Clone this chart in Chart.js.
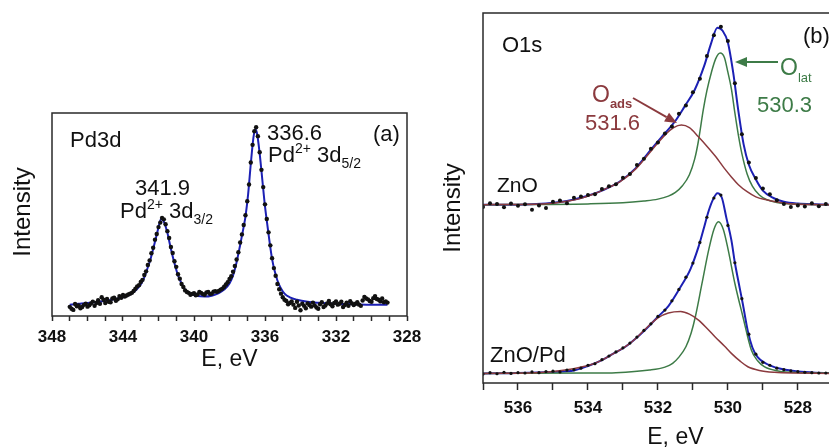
<!DOCTYPE html>
<html>
<head>
<meta charset="utf-8">
<title>Pd3d / O1s XPS</title>
<script src="https://cdn.jsdelivr.net/npm/chart.js@4.4.1/dist/chart.umd.min.js"></script>
<style>
  html, body { margin: 0; padding: 0; background: #fff; overflow: hidden; width: 829px; height: 448px; }
  canvas { position: absolute; top: 0; }
  #chartA { left: 0; }
  #chartB { left: 420px; }
</style>
</head>
<body>
<canvas id="chartA" width="440" height="380"></canvas>
<canvas id="chartB" width="470" height="460"></canvas>
<script>
// ---- panel (a): Pd3d ----
// fitted envelope (blue)
const pdFitE = [347.0, 346.5, 346.0, 345.5, 345.0, 344.5, 344.0, 343.6, 343.3, 343.0, 342.8, 342.6, 342.45, 342.3, 342.1, 341.95, 341.85, 341.7, 341.5, 341.3, 341.1, 340.9, 340.7, 340.5, 340.2, 339.8, 339.4, 339.0, 338.6, 338.3, 338.0, 337.8, 337.6, 337.4, 337.2, 337.1, 336.95, 336.8, 336.65, 336.55, 336.45, 336.3, 336.15, 336.0, 335.9, 335.75, 335.6, 335.45, 335.3, 335.1, 334.9, 334.6, 334.2, 333.6, 333.0, 332.0, 331.0, 330.0, 329.1];
const pdFitI = [5.6, 6.0, 6.4, 6.9, 7.4, 8.2, 9.2, 10.5, 12.5, 15.5, 19, 24, 28, 33, 40, 45.5, 47.8, 46.5, 41, 33, 26, 20, 16, 13, 11, 9.8, 9.6, 10.0, 11.3, 13.0, 16, 20, 26.5, 35, 44, 49, 60, 75, 88, 92, 90, 80, 67, 54, 47, 37, 28, 22, 17.5, 13.5, 11, 9.2, 8.0, 7.0, 6.5, 6.0, 5.8, 5.6, 5.6];
// measured points (black dots)
const pdDotE = [347.0, 346.9, 346.8, 346.7, 346.6, 346.5, 346.4, 346.3, 346.2, 346.1, 346.0, 345.9, 345.8, 345.7, 345.6, 345.5, 345.4, 345.3, 345.2, 345.1, 345.0, 344.9, 344.8, 344.7, 344.6, 344.5, 344.4, 344.3, 344.2, 344.1, 344.0, 343.9, 343.8, 343.7, 343.6, 343.5, 343.4, 343.3, 343.2, 343.1, 343.0, 342.9, 342.8, 342.7, 342.6, 342.5, 342.4, 342.3, 342.2, 342.1, 342.0, 341.9, 341.8, 341.7, 341.6, 341.5, 341.4, 341.3, 341.2, 341.1, 341.0, 340.9, 340.8, 340.7, 340.6, 340.5, 340.4, 340.3, 340.2, 340.1, 340.0, 339.9, 339.8, 339.7, 339.6, 339.5, 339.4, 339.3, 339.2, 339.1, 339.0, 338.9, 338.8, 338.7, 338.6, 338.5, 338.4, 338.3, 338.2, 338.1, 338.0, 337.9, 337.8, 337.7, 337.6, 337.5, 337.4, 337.3, 337.2, 337.1, 337.0, 336.9, 336.8, 336.7, 336.6, 336.5, 336.4, 336.3, 336.2, 336.1, 336.0, 335.9, 335.8, 335.7, 335.6, 335.5, 335.4, 335.3, 335.2, 335.1, 335.0, 334.9, 334.8, 334.7, 334.6, 334.5, 334.4, 334.3, 334.2, 334.1, 334.0, 333.9, 333.8, 333.7, 333.6, 333.5, 333.4, 333.3, 333.2, 333.1, 333.0, 332.9, 332.8, 332.7, 332.6, 332.5, 332.4, 332.3, 332.2, 332.1, 332.0, 331.9, 331.8, 331.7, 331.6, 331.5, 331.4, 331.3, 331.2, 331.1, 331.0, 330.9, 330.8, 330.7, 330.6, 330.5, 330.4, 330.3, 330.2, 330.1, 330.0, 329.9, 329.8, 329.7, 329.6, 329.5, 329.4, 329.3, 329.2, 329.1];
const pdDotI = [4.5, 3.6, 3.0, 5.9, 4.8, 5.2, 3.8, 4.4, 5.5, 6.0, 4.6, 5.3, 6.2, 7.1, 5.0, 6.4, 7.8, 6.0, 9.2, 8.0, 6.4, 8.4, 7.0, 6.8, 8.6, 9.0, 7.5, 8.2, 9.8, 9.0, 10.4, 9.6, 10.1, 10.6, 11.0, 11.4, 12.3, 13.4, 14.6, 15.2, 16.8, 17.8, 20.2, 22.0, 25.1, 27.4, 30.9, 33.6, 37.6, 40.4, 43.8, 46.0, 48.3, 47.6, 45.2, 41.8, 38.4, 34.0, 31.0, 27.0, 24.2, 20.6, 18.4, 15.8, 14.3, 12.6, 11.8, 11.4, 10.5, 10.9, 11.2, 10.2, 10.6, 11.8, 11.4, 10.8, 10.5, 11.6, 11.8, 10.9, 11.0, 12.0, 12.2, 11.9, 12.4, 13.0, 13.5, 14.4, 15.5, 16.6, 18.2, 19.6, 21.8, 24.6, 27.8, 31.4, 36.2, 40.2, 44.8, 49.6, 56.5, 64.8, 75.6, 84.3, 91.0, 93.0, 88.6, 80.7, 72.0, 63.5, 55.0, 47.8, 41.2, 34.8, 28.5, 23.6, 19.8, 15.8, 13.2, 11.0, 9.2, 8.0, 7.4, 5.8, 6.4, 7.2, 5.6, 4.0, 7.0, 5.2, 2.8, 6.0, 5.0, 3.8, 6.2, 5.4, 4.6, 6.6, 5.2, 4.2, 3.6, 5.8, 6.8, 4.4, 5.2, 6.2, 7.4, 5.8, 4.8, 6.4, 7.2, 5.6, 6.0, 7.0, 4.4, 5.4, 6.6, 5.0, 7.3, 6.2, 5.4, 6.0, 6.8, 5.6, 5.0, 7.6, 9.4, 8.6, 8.2, 7.4, 7.0, 8.8, 9.8, 8.4, 8.0, 7.2, 8.6, 6.8, 7.2, 6.6];

// ---- panel (b): O1s ----
// ZnO: envelope, lattice oxygen, adsorbed oxygen
const znoFitE = [537.0, 536.0, 535.2, 534.8, 534.4, 534.0, 533.6, 533.1, 532.64, 532.17, 531.8, 531.52, 531.24, 530.95, 530.67, 530.48, 530.3, 530.15, 530.0, 529.85, 529.7, 529.55, 529.4, 529.2, 529.0, 528.7, 528.4, 528.0, 527.5, 527.0, 526.0];
const znoFitI = [48.2, 48.2, 48.5, 48.9, 49.6, 50.6, 52.0, 54.4, 58.0, 63.4, 67.5, 70.6, 74.7, 79.2, 85.9, 91.8, 96.0, 95.2, 92.0, 84.0, 73.5, 64.5, 59.0, 55.0, 52.0, 50.0, 49.0, 48.5, 48.3, 48.2, 48.2];
const znoLatE = [537.0, 534.0, 533.0, 532.4, 532.0, 531.7, 531.5, 531.3, 531.1, 530.95, 530.85, 530.7, 530.6, 530.47, 530.35, 530.22, 530.1, 530.0, 529.9, 529.8, 529.7, 529.6, 529.45, 529.3, 529.1, 528.9, 528.6, 528.2, 527.0, 526.0];
const znoLatI = [48.2, 48.4, 48.7, 49.2, 49.7, 50.5, 51.5, 53.3, 56.3, 60.5, 65.0, 74.0, 79.0, 84.0, 87.6, 89.2, 88.0, 84.0, 79.5, 73.0, 67.0, 62.0, 56.5, 53.2, 50.8, 49.6, 48.8, 48.4, 48.2, 48.2];
const znoAdsE = [537.0, 535.5, 535.0, 534.6, 534.2, 533.8, 533.4, 533.1, 532.64, 532.17, 531.8, 531.55, 531.33, 531.1, 530.85, 530.6, 530.35, 530.1, 529.9, 529.7, 529.45, 529.2, 528.9, 528.6, 528.3, 528.0, 527.0, 526.0];
const znoAdsI = [48.2, 48.3, 48.6, 49.1, 49.9, 51.2, 52.9, 54.3, 57.8, 63.0, 67.0, 69.0, 69.7, 69.0, 66.6, 64.0, 61.2, 58.0, 55.7, 53.6, 51.7, 50.3, 49.5, 48.9, 48.5, 48.3, 48.2, 48.2];
// ZnO/Pd: envelope, lattice oxygen, adsorbed oxygen
const pdzFitE = [537.0, 536.0, 535.0, 534.4, 534.0, 533.6, 533.3, 532.93, 532.6, 532.37, 532.0, 531.7, 531.35, 531.07, 530.84, 530.7, 530.55, 530.42, 530.3, 530.17, 530.04, 529.9, 529.8, 529.7, 529.57, 529.43, 529.3, 529.15, 528.9, 528.67, 528.3, 528.0, 527.5, 527.0, 526.0];
const pdzFitI = [2.6, 2.7, 3.0, 3.4, 4.6, 6.2, 7.8, 9.8, 12.3, 14.3, 17.9, 20.8, 26.0, 30.8, 36.8, 41.4, 46.5, 49.7, 51.3, 50.0, 44.5, 38.6, 32.5, 27.5, 21.2, 14.0, 9.6, 7.0, 5.2, 4.3, 3.5, 3.1, 2.8, 2.7, 2.7];
const pdzLatE = [537.0, 534.0, 533.2, 532.24, 531.8, 531.58, 531.4, 531.2, 531.05, 530.93, 530.74, 530.55, 530.4, 530.27, 530.13, 529.99, 529.8, 529.57, 529.33, 529.15, 528.96, 528.6, 528.0, 527.0, 526.0];
const pdzLatI = [2.6, 2.7, 2.8, 3.5, 4.3, 5.3, 7.0, 9.8, 13.5, 17.9, 26.9, 35.9, 41.5, 43.6, 41.5, 35.9, 26.9, 17.9, 8.9, 6.0, 4.4, 3.3, 2.8, 2.7, 2.7];
const pdzAdsE = [537.0, 535.5, 535.0, 534.6, 534.25, 533.9, 533.6, 533.3, 532.93, 532.6, 532.37, 532.0, 531.7, 531.35, 531.1, 530.84, 530.6, 530.37, 530.1, 529.9, 529.65, 529.43, 529.1, 528.67, 528.0, 527.0, 526.0];
const pdzAdsI = [2.6, 2.8, 3.1, 3.6, 4.2, 5.0, 6.2, 7.8, 9.8, 12.3, 14.5, 17.6, 18.9, 19.3, 18.6, 17.0, 14.8, 12.5, 10.0, 8.0, 5.9, 4.4, 3.4, 2.9, 2.7, 2.6, 2.6];
// measured points, both samples
const o1sDotE = [537.0, 536.8, 536.6, 536.4, 536.2, 536.0, 535.8, 535.6, 535.4, 535.2, 535.0, 534.8, 534.6, 534.4, 534.2, 534.0, 533.8, 533.6, 533.4, 533.2, 533.0, 532.8, 532.6, 532.4, 532.2, 532.0, 531.8, 531.6, 531.4, 531.2, 531.0, 530.8, 530.6, 530.4, 530.2, 530.0, 529.8, 529.6, 529.4, 529.2, 529.0, 528.8, 528.6, 528.4, 528.2, 528.0, 527.8, 527.6, 527.4, 527.2, 527.0, 526.8, 526.6];
const znoDotI = [47.6, 48.6, 48.4, 47.5, 48.5, 47.9, 48.3, 46.8, 48.0, 47.3, 49.0, 49.3, 48.6, 50.1, 50.4, 50.8, 51.0, 52.4, 53.2, 53.7, 55.5, 56.5, 58.9, 60.6, 63.3, 65.0, 67.4, 69.3, 72.8, 75.0, 78.6, 82.2, 88.4, 94.0, 96.3, 92.4, 81.0, 67.2, 59.6, 55.4, 52.6, 51.0, 49.4, 48.4, 47.6, 48.0, 47.7, 48.6, 47.8, 48.4, 47.5, 48.6, 48.0];
const pdzDotI = [2.4, 2.8, 2.5, 2.9, 2.6, 2.8, 2.7, 3.0, 2.8, 3.1, 3.2, 3.0, 3.5, 3.6, 4.0, 4.8, 5.2, 6.3, 7.3, 8.4, 9.5, 10.8, 12.4, 14.2, 16.0, 18.0, 19.7, 22.2, 25.3, 28.6, 32.4, 38.0, 44.8, 50.0, 50.8, 42.6, 32.5, 22.8, 13.2, 7.8, 5.6, 4.8, 4.0, 3.6, 3.3, 3.1, 2.9, 2.8, 2.7, 2.7, 2.6, 2.8, 2.6];

const FONT = "'Liberation Sans', Arial, Helvetica, sans-serif";
const BLUE = '#1c20b4';
const GREEN = '#3d7b47';
const RED = '#8b3a3e';
const DOT = '#111111';
const AXIS = '#2a2a2a';

Chart.defaults.font.family = FONT;

const pts = (xs, ys) => xs.map((x, i) => ({ x: x, y: ys[i] }));

function fitLine(xs, ys, color, width) {
    return {
        data: pts(xs, ys),
        showLine: true,
        borderColor: color,
        borderWidth: width,
        pointRadius: 0,
        cubicInterpolationMode: 'monotone',
        fill: false
    };
}

function dots(xs, ys, r) {
    return {
        data: pts(xs, ys),
        showLine: false,
        pointRadius: r,
        pointBackgroundColor: DOT,
        pointBorderColor: DOT,
        pointBorderWidth: 0
    };
}

function energyAxis(min, max, labelEvery, tickLen, pad, height, titlePad) {
    return {
        type: 'linear',
        reverse: true,
        min: min,
        max: max,
        afterFit: s => { s.height = height; },
        ticks: {
            stepSize: 1,
            autoSkip: false,
            maxTicksLimit: 100,
            maxRotation: 0,
            padding: pad,
            color: '#111',
            font: { size: 17, weight: 'bold' },
            callback: v => (Math.round(v) % labelEvery === 0 ? String(Math.round(v)) : '')
        },
        grid: {
            drawOnChartArea: false,
            drawTicks: true,
            tickLength: tickLen,
            tickWidth: 1.5,
            tickColor: AXIS
        },
        border: { display: false },
        title: {
            display: true,
            text: 'E, eV',
            color: '#111',
            font: { size: 23 },
            padding: { top: 0, bottom: titlePad }
        }
    };
}

// text with sub/superscripts, left aligned on a baseline
function rich(ctx, x, y, parts, color) {
    ctx.fillStyle = color;
    ctx.textAlign = 'left';
    ctx.textBaseline = 'alphabetic';
    parts.forEach(p => {
        ctx.font = (p.bold ? 'bold ' : '') + p.size + 'px ' + FONT;
        ctx.fillText(p.t, x, y + (p.dy || 0));
        x += ctx.measureText(p.t).width;
    });
}

function arrow(ctx, x1, y1, x2, y2, color) {
    const ang = Math.atan2(y2 - y1, x2 - x1);
    const hl = 12, hw = 5;
    const bx = x2 - hl * Math.cos(ang), by = y2 - hl * Math.sin(ang);
    ctx.strokeStyle = color;
    ctx.fillStyle = color;
    ctx.lineWidth = 2;
    ctx.beginPath();
    ctx.moveTo(x1, y1);
    ctx.lineTo(bx, by);
    ctx.stroke();
    ctx.beginPath();
    ctx.moveTo(x2, y2);
    ctx.lineTo(bx + hw * Math.sin(ang), by - hw * Math.cos(ang));
    ctx.lineTo(bx - hw * Math.sin(ang), by + hw * Math.cos(ang));
    ctx.closePath();
    ctx.fill();
}

function vTitle(ctx, text, cx, cy, size) {
    ctx.save();
    ctx.translate(cx, cy);
    ctx.rotate(-Math.PI / 2);
    ctx.font = size + 'px ' + FONT;
    ctx.fillStyle = '#111';
    ctx.textAlign = 'center';
    ctx.textBaseline = 'middle';
    ctx.fillText(text, 0, 0);
    ctx.restore();
}

function panelPlugin(draw) {
    return {
        id: 'panelDecor',
        afterDraw(chart) {
            const ctx = chart.ctx;
            const a = chart.chartArea;
            ctx.save();
            ctx.strokeStyle = AXIS;
            ctx.lineWidth = 1.5;
            ctx.strokeRect(a.left, a.top, a.right - a.left, a.bottom - a.top);
            draw(ctx, a);
            ctx.restore();
        }
    };
}

const baseOptions = (padding, xAxis) => ({
    responsive: false,
    animation: false,
    events: [],
    layout: { padding: padding },
    plugins: { legend: { display: false }, tooltip: { enabled: false } },
    scales: {
        x: xAxis,
        y: { display: false, min: 0, max: 100 }
    }
});

// ====== Pd3d ======
new Chart(document.getElementById('chartA').getContext('2d'), {
    type: 'scatter',
    data: {
        datasets: [
            dots(pdDotE, pdDotI, 2.2),
            fitLine(pdFitE, pdFitI, BLUE, 2)
        ]
    },
    options: baseOptions({ left: 52, right: 33, top: 113, bottom: 0 },
        energyAxis(328, 348, 4, 5, 6, 64, 7)),
    plugins: [panelPlugin((ctx) => {
        const big = 22, small = 14;
        rich(ctx, 70, 147, [{ t: 'Pd3d', size: big }], '#111');
        rich(ctx, 373, 141, [{ t: '(a)', size: big }], '#111');
        rich(ctx, 267, 140, [{ t: '336.6', size: big }], '#111');
        rich(ctx, 268, 162, [
            { t: 'Pd', size: big }, { t: '2+', size: small, dy: -9 },
            { t: ' 3d', size: big }, { t: '5/2', size: small, dy: 6 }
        ], '#111');
        rich(ctx, 135, 195, [{ t: '341.9', size: big }], '#111');
        rich(ctx, 120, 218, [
            { t: 'Pd', size: big }, { t: '2+', size: small, dy: -9 },
            { t: ' 3d', size: big }, { t: '3/2', size: small, dy: 6 }
        ], '#111');
        vTitle(ctx, 'Intensity', 23, 212, 24);
    })]
});

// ====== O1s ======
new Chart(document.getElementById('chartB').getContext('2d'), {
    type: 'scatter',
    data: {
        datasets: [
            dots(o1sDotE, znoDotI, 2),
            dots(o1sDotE, pdzDotI, 1.6),
            fitLine(znoAdsE, znoAdsI, RED, 1.5),
            fitLine(pdzAdsE, pdzAdsI, RED, 1.5),
            fitLine(znoLatE, znoLatI, GREEN, 1.5),
            fitLine(pdzLatE, pdzLatI, GREEN, 1.5),
            fitLine(znoFitE, znoFitI, BLUE, 2),
            fitLine(pdzFitE, pdzFitI, BLUE, 2)
        ]
    },
    options: baseOptions({ left: 63, right: 15, top: 13, bottom: 0 },
        energyAxis(526, 537, 2, 7, 8, 77, 9)),
    plugins: [panelPlugin((ctx) => {
        rich(ctx, 82, 52, [{ t: 'O1s', size: 22 }], '#111');
        rich(ctx, 383, 43, [{ t: '(b)', size: 22 }], '#111');
        rich(ctx, 77, 192, [{ t: 'ZnO', size: 21 }], '#111');
        rich(ctx, 70, 362, [{ t: 'ZnO/Pd', size: 22 }], '#111');
        rich(ctx, 172, 102, [{ t: 'O', size: 23 }, { t: 'ads', size: 13, bold: true, dy: 6 }], RED);
        rich(ctx, 165, 130, [{ t: '531.6', size: 22 }], RED);
        arrow(ctx, 213, 98, 257, 123, RED);
        rich(ctx, 360, 75, [{ t: 'O', size: 23 }, { t: 'lat', size: 13, dy: 7 }], GREEN);
        rich(ctx, 337, 112, [{ t: '530.3', size: 22 }], GREEN);
        arrow(ctx, 358, 62, 315, 62, GREEN);
        vTitle(ctx, 'Intensity', 33, 208, 24);
    })]
});
</script>
</body>
</html>
